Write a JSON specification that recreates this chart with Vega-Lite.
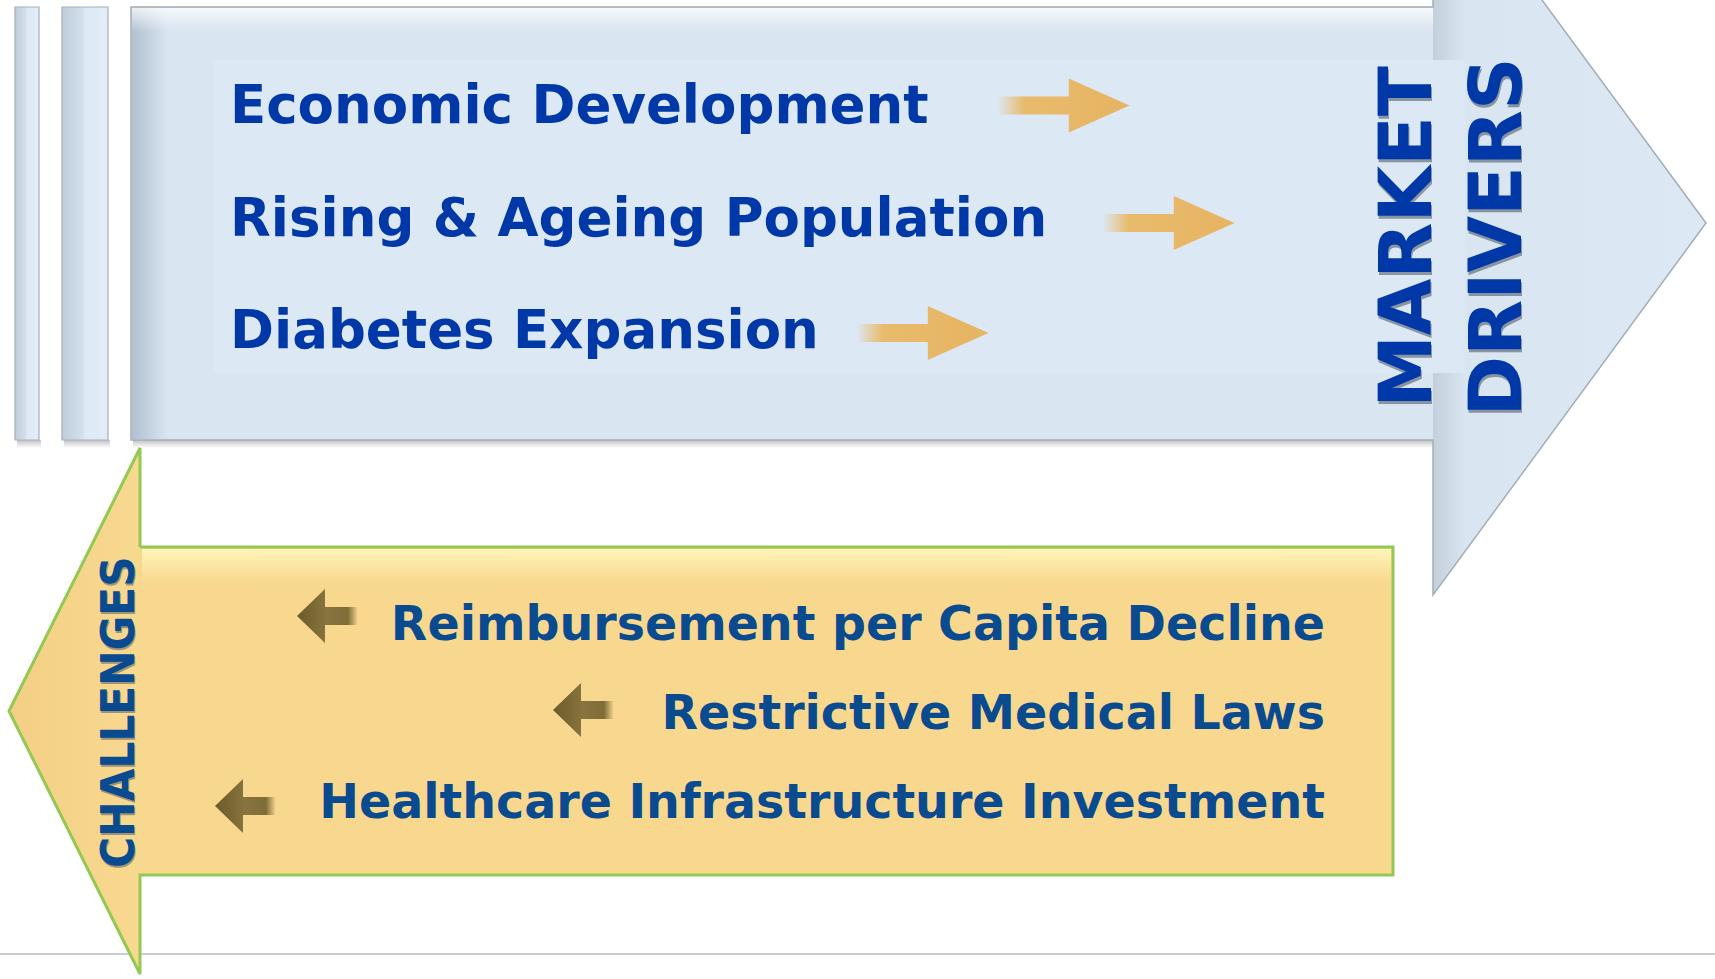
{
  "$schema": "https://vega.github.io/schema/vega-lite/v6.json",
  "width": 1715,
  "height": 979,
  "padding": 0,
  "autosize": {"type": "none"},
  "background": "white",
  "config": {"view": {"stroke": null}},
  "datasets": {
    "rule": [{"x": 0, "x2": 1715, "y": 954}],
    "shadow": [
      {"x": 17, "x2": 41, "y": 440, "y2": 448},
      {"x": 64, "x2": 110, "y": 440, "y2": 448},
      {"x": 133, "x2": 1433, "y": 440, "y2": 448}
    ],
    "bars": [
      {"x": 15, "x2": 39, "y": 7, "y2": 440},
      {"x": 62, "x2": 108, "y": 7, "y2": 440}
    ],
    "blueBody": [{"x": 131, "x2": 1433, "y": 7, "y2": 440}],
    "blueHead": [
      {"x": 1433, "y": 0, "y2": 595},
      {"x": 1542, "y": 0, "y2": 446.5},
      {"x": 1706, "y": 223, "y2": 223}
    ],
    "blueOutline": [
      {"i": 0, "x": 1542, "y": 0},
      {"i": 1, "x": 1706, "y": 223},
      {"i": 2, "x": 1433, "y": 595},
      {"i": 3, "x": 1433, "y": 440},
      {"i": 4, "x": 131, "y": 440},
      {"i": 5, "x": 131, "y": 7},
      {"i": 6, "x": 1433, "y": 7},
      {"i": 7, "x": 1433, "y": 0}
    ],
    "inner": [{"x": 213, "x2": 1465, "y": 60, "y2": 373}],
    "bevelLeft": [{"x": 132, "x2": 168, "y": 8, "y2": 439}],
    "bevelTop": [{"x": 132, "x2": 1433, "y": 8, "y2": 32}],
    "goldBody": [{"x": 140, "x2": 1393, "y": 547, "y2": 875}],
    "goldHead": [
      {"x": 9, "y": 711, "y2": 711},
      {"x": 140, "y": 448, "y2": 974}
    ],
    "goldOutline": [
      {"i": 0, "x": 140, "y": 547},
      {"i": 1, "x": 140, "y": 448},
      {"i": 2, "x": 9, "y": 711},
      {"i": 3, "x": 140, "y": 974},
      {"i": 4, "x": 140, "y": 875},
      {"i": 5, "x": 1393, "y": 875},
      {"i": 6, "x": 1393, "y": 547},
      {"i": 7, "x": 140, "y": 547}
    ],
    "goldTop": [{"x": 142, "x2": 1391, "y": 549, "y2": 582}],
    "rarrows": [
      {"x": 1063.5, "y": 105.5},
      {"x": 1168.5, "y": 223},
      {"x": 922.5, "y": 333}
    ],
    "larrows": [
      {"x": 327, "y": 616},
      {"x": 583, "y": 710},
      {"x": 245, "y": 806}
    ],
    "drivers": [
      {"label": "Economic Development", "x": 230, "y": 123},
      {"label": "Rising & Ageing Population", "x": 230, "y": 236},
      {"label": "Diabetes Expansion", "x": 230, "y": 348}
    ],
    "challenges": [
      {"label": "Reimbursement per Capita Decline", "x": 1325, "y": 640},
      {"label": "Restrictive Medical Laws", "x": 1325, "y": 729},
      {"label": "Healthcare Infrastructure Investment", "x": 1325, "y": 818}
    ],
    "titles": [
      {"label": "MARKET", "x": 1431, "y": 237},
      {"label": "DRIVERS", "x": 1521, "y": 237}
    ],
    "chal": [{"label": "CHALLENGES", "x": 134, "y": 712}]
  },
  "encoding": {
    "x": {"field": "x", "type": "quantitative", "scale": {"domain": [0, 1715], "nice": false, "zero": false}, "axis": null},
    "y": {"field": "y", "type": "quantitative", "scale": {"domain": [0, 979], "nice": false, "zero": false, "reverse": true}, "axis": null}
  },
  "layer": [
    {
      "data": {"name": "rule"},
      "mark": {"type": "rule", "color": "#b3bcc8", "strokeWidth": 1.5},
      "encoding": {"x2": {"field": "x2"}}
    },
    {
      "data": {"name": "shadow"},
      "mark": {"type": "rect", "fill": {"gradient": "linear", "x1": 0, "y1": 0, "x2": 0, "y2": 1, "stops": [{"offset": 0, "color": "rgba(120,120,120,0.45)"}, {"offset": 1, "color": "rgba(120,120,120,0)"}]}},
      "encoding": {"x2": {"field": "x2"}, "y2": {"field": "y2"}}
    },
    {
      "data": {"name": "bars"},
      "mark": {"type": "rect", "stroke": "#a5afba", "strokeWidth": 1.2, "fill": {"gradient": "linear", "x1": 0, "y1": 0, "x2": 1, "y2": 0, "stops": [{"offset": 0, "color": "#bfcdda"}, {"offset": 0.45, "color": "#d3e0ec"}, {"offset": 0.5, "color": "#dde9f5"}, {"offset": 1, "color": "#e2edf8"}]}},
      "encoding": {"x2": {"field": "x2"}, "y2": {"field": "y2"}}
    },
    {
      "data": {"name": "blueBody"},
      "mark": {"type": "rect", "fill": "#d9e5f1"},
      "encoding": {"x2": {"field": "x2"}, "y2": {"field": "y2"}}
    },
    {
      "data": {"name": "blueHead"},
      "mark": {"type": "area", "interpolate": "linear", "orient": "vertical", "fill": {"gradient": "linear", "x1": 0, "y1": 0, "x2": 1, "y2": 0, "stops": [{"offset": 0, "color": "#c3d0dc"}, {"offset": 0.12, "color": "#d9e5f1"}, {"offset": 1, "color": "#dce8f4"}]}},
      "encoding": {"y2": {"field": "y2"}}
    },
    {
      "data": {"name": "inner"},
      "mark": {"type": "rect", "fill": "#dce8f4"},
      "encoding": {"x2": {"field": "x2"}, "y2": {"field": "y2"}}
    },
    {
      "data": {"name": "bevelLeft"},
      "mark": {"type": "rect", "fill": {"gradient": "linear", "x1": 0, "y1": 0, "x2": 1, "y2": 0, "stops": [{"offset": 0, "color": "rgba(150,168,186,0.6)"}, {"offset": 1, "color": "rgba(150,168,186,0)"}]}},
      "encoding": {"x2": {"field": "x2"}, "y2": {"field": "y2"}}
    },
    {
      "data": {"name": "bevelTop"},
      "mark": {"type": "rect", "fill": {"gradient": "linear", "x1": 0, "y1": 0, "x2": 0, "y2": 1, "stops": [{"offset": 0, "color": "rgba(255,255,255,0.75)"}, {"offset": 1, "color": "rgba(255,255,255,0)"}]}},
      "encoding": {"x2": {"field": "x2"}, "y2": {"field": "y2"}}
    },
    {
      "data": {"name": "blueOutline"},
      "mark": {"type": "line", "color": "#a3adb8", "strokeWidth": 1.5, "interpolate": "linear"},
      "encoding": {"order": {"field": "i", "type": "quantitative"}}
    },
    {
      "data": {"name": "goldBody"},
      "mark": {"type": "rect", "fill": "#f8d88f"},
      "encoding": {"x2": {"field": "x2"}, "y2": {"field": "y2"}}
    },
    {
      "data": {"name": "goldHead"},
      "mark": {"type": "area", "interpolate": "linear", "orient": "vertical", "fill": {"gradient": "linear", "x1": 0, "y1": 0, "x2": 1, "y2": 0, "stops": [{"offset": 0, "color": "#f3cf85"}, {"offset": 1, "color": "#f8d990"}]}},
      "encoding": {"y2": {"field": "y2"}}
    },
    {
      "data": {"name": "goldTop"},
      "mark": {"type": "rect", "fill": {"gradient": "linear", "x1": 0, "y1": 0, "x2": 0, "y2": 1, "stops": [{"offset": 0, "color": "rgba(255,248,190,0.9)"}, {"offset": 1, "color": "rgba(255,248,190,0)"}]}},
      "encoding": {"x2": {"field": "x2"}, "y2": {"field": "y2"}}
    },
    {
      "data": {"name": "goldOutline"},
      "mark": {"type": "line", "color": "#93c953", "strokeWidth": 3, "interpolate": "linear", "strokeJoin": "miter"},
      "encoding": {"order": {"field": "i", "type": "quantitative"}}
    },
    {
      "data": {"name": "rarrows"},
      "mark": {"type": "point", "filled": true, "size": 17424, "strokeWidth": 0, "opacity": 1,
        "shape": "M -1 -0.136 L 0.08 -0.136 L 0.08 -0.41 L 1 0 L 0.08 0.41 L 0.08 0.136 L -1 0.136 Z",
        "fill": {"gradient": "linear", "x1": 0, "y1": 0, "x2": 1, "y2": 0, "stops": [{"offset": 0, "color": "rgba(232,186,104,0)"}, {"offset": 0.2, "color": "#e8bb6c"}, {"offset": 1, "color": "#e6b462"}]}}
    },
    {
      "data": {"name": "larrows"},
      "mark": {"type": "point", "filled": true, "size": 3600, "strokeWidth": 0, "opacity": 1,
        "shape": "M 1 -0.3 L -0.067 -0.3 L -0.067 -0.9 L -1 0 L -0.067 0.9 L -0.067 0.3 L 1 0.3 Z",
        "fill": {"gradient": "linear", "x1": 0, "y1": 0, "x2": 1, "y2": 0, "stops": [{"offset": 0, "color": "#6d5c28"}, {"offset": 0.5, "color": "#87743f"}, {"offset": 0.85, "color": "#7f6d38"}, {"offset": 1, "color": "rgba(127,109,56,0.1)"}]}}
    },
    {
      "data": {"name": "drivers"},
      "mark": {"type": "text", "align": "left", "baseline": "alphabetic", "font": "DejaVu Sans", "fontWeight": "bold", "fontSize": 53, "color": "#0038a8"},
      "encoding": {"text": {"field": "label"}}
    },
    {
      "data": {"name": "challenges"},
      "mark": {"type": "text", "align": "right", "baseline": "alphabetic", "font": "DejaVu Sans", "fontWeight": "bold", "fontSize": 47.5, "color": "#0a4b8f"},
      "encoding": {"text": {"field": "label"}}
    },
    {
      "data": {"name": "titles"},
      "mark": {"type": "text", "angle": 270, "align": "center", "baseline": "alphabetic", "font": "DejaVu Sans", "fontWeight": "bold", "fontSize": 73, "color": "rgba(70,80,95,0.55)", "dx": -3, "dy": 1},
      "encoding": {"text": {"field": "label"}}
    },
    {
      "data": {"name": "titles"},
      "mark": {"type": "text", "angle": 270, "align": "center", "baseline": "alphabetic", "font": "DejaVu Sans", "fontWeight": "bold", "fontSize": 73, "color": "#0038a8"},
      "encoding": {"text": {"field": "label"}}
    },
    {
      "data": {"name": "chal"},
      "mark": {"type": "text", "angle": 270, "align": "center", "baseline": "alphabetic", "font": "DejaVu Sans Condensed, Liberation Sans", "fontWeight": "bold", "fontSize": 47, "color": "rgba(70,80,95,0.5)", "dx": -2, "dy": 1},
      "encoding": {"text": {"field": "label"}}
    },
    {
      "data": {"name": "chal"},
      "mark": {"type": "text", "angle": 270, "align": "center", "baseline": "alphabetic", "font": "DejaVu Sans Condensed, Liberation Sans", "fontWeight": "bold", "fontSize": 47, "color": "#0a4b8f"},
      "encoding": {"text": {"field": "label"}}
    }
  ]
}
